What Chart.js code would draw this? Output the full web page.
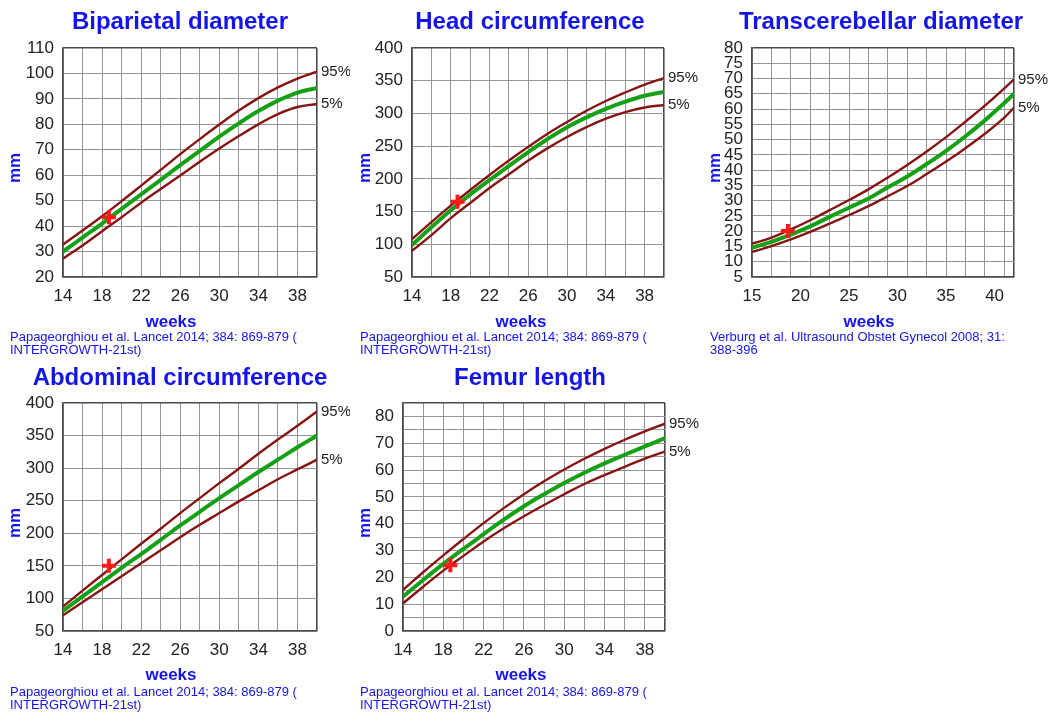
<!DOCTYPE html>
<html>
<head>
<meta charset="utf-8">
<title>Fetal biometry</title>
<script src="https://cdn.jsdelivr.net/npm/chart.js@4.4.1/dist/chart.umd.min.js"></script>
<style>
  html, body { margin: 0; padding: 0; background: #fff; }
  #sheet { position: relative; width: 1050px; height: 714px; overflow: hidden; }
  #sheet canvas { position: absolute; }
</style>
</head>
<body>
<div id="sheet">
  <canvas id="bpdChart" width="350" height="358" style="left:0;top:0"></canvas>
  <canvas id="hcChart"  width="350" height="358" style="left:350px;top:0"></canvas>
  <canvas id="tcdChart" width="350" height="358" style="left:700px;top:0"></canvas>
  <canvas id="acChart"  width="350" height="358" style="left:0;top:355px"></canvas>
  <canvas id="flChart"  width="350" height="358" style="left:350px;top:355px"></canvas>
</div>
<script>
/* -------------------- reference curves (mm) -------------------- */
// INTERGROWTH-21st charts, every 2 weeks
const WEEKS = [14, 16, 18, 20, 22, 24, 26, 28, 30, 32, 34, 36, 38, 40];

const BPD_P95 = [32.8, 38.3, 43.9, 49.8, 55.9, 62.1, 68.3, 74.2, 79.9, 85.4, 90.3, 94.5, 98.0, 100.7];
const BPD_P50 = [30.0, 35.5, 41.0, 46.8, 52.5, 58.2, 64.0, 69.6, 75.2, 80.4, 85.2, 89.3, 92.5, 94.3];
const BPD_P5  = [27.2, 32.4, 38.0, 43.5, 49.2, 54.6, 59.9, 65.3, 70.5, 75.4, 80.0, 84.0, 86.8, 88.0];

const HC_P95 = [108, 134, 159, 183, 206, 228, 249, 269, 287, 304, 319, 332, 344, 354];
const HC_P50 = [99, 126, 152, 176, 198, 220, 241, 261, 279, 294, 307, 318, 327, 333];
const HC_P5  = [90, 114, 140, 163, 186, 207, 228, 247, 264, 279, 292, 302, 309, 313];

const AC_P95 = [87.5, 112, 136, 160, 184, 207, 231, 254, 277, 299, 322, 344, 365, 387];
const AC_P50 = [81, 103, 125, 147, 168, 190, 212, 233, 254, 274, 294, 313, 332, 350];
const AC_P5  = [74, 94, 114, 134, 154, 174, 194, 213, 231, 249, 266, 283, 298, 313];

const FL_P95 = [15.3, 21.9, 28.2, 34.3, 40.2, 45.8, 51.0, 55.8, 60.2, 64.2, 67.9, 71.3, 74.4, 77.3];
const FL_P50 = [12.8, 19.0, 25.0, 30.6, 36.1, 41.5, 46.5, 51.0, 55.2, 59.0, 62.5, 65.7, 68.8, 71.9];
const FL_P5  = [10.3, 16.5, 22.5, 28.0, 33.4, 38.3, 42.8, 47.0, 51.0, 54.8, 58.1, 61.2, 64.3, 66.9];

// Verburg transcerebellar chart, odd weeks up to term
const TCD_WEEKS = [15, 17, 19, 21, 23, 25, 27, 29, 31, 33, 35, 37, 39, 41, 42];
const TCD_P95 = [15.9, 17.9, 20.6, 23.6, 26.9, 30.2, 33.7, 37.6, 41.7, 46.1, 50.8, 55.9, 61.1, 66.8, 69.7];
const TCD_P50 = [14.6, 16.5, 18.9, 21.6, 24.7, 27.7, 30.7, 34.4, 37.9, 42.0, 46.3, 51.1, 56.3, 62.0, 65.0];
const TCD_P5  = [13.2, 15.1, 17.3, 19.8, 22.5, 25.3, 28.2, 31.5, 34.8, 38.7, 42.8, 47.2, 51.9, 57.2, 60.5];

/* -------------------- this scan -------------------- */
const SCAN_WEEK = 18.7;
const BPD_MEASURED = 43.5;
const HC_MEASURED = 165;
const TCD_MEASURED = 20.1;
const AC_MEASURED = 150;
const FL_MEASURED = 24.5;

const INTERGROWTH_SOURCE = ['Papageorghiou et al. Lancet 2014; 384: 869-879 (', 'INTERGROWTH-21st)'];
const VERBURG_SOURCE = ['Verburg et al. Ultrasound Obstet Gynecol 2008; 31:', '388-396'];

/* -------------------- styles -------------------- */
const FONT = 'Arial, "Liberation Sans", Helvetica, sans-serif';
const BLUE = '#1515e8';
const MAROON = '#861414';
const GREEN = '#16a016';
const MARK_RED = '#ff1a1a';
const GRID = '#969696';
const EDGE = '#4a4a4a';

Chart.defaults.font.family = FONT;

/* -------------------- panel texts -------------------- */
const panelText = {
  id: 'panelText',
  afterDraw(chart, args, opts) {
    const { ctx, chartArea } = chart;
    ctx.save();
    ctx.fillStyle = BLUE;
    ctx.textAlign = 'center';
    ctx.textBaseline = 'middle';

    ctx.font = `bold 24px ${FONT}`;
    ctx.fillText(opts.title, opts.titleX, opts.titleY);

    ctx.font = `bold 17px ${FONT}`;
    ctx.fillText('weeks', opts.weeksX, opts.weeksY);
    ctx.save();
    ctx.translate(15, 168);
    ctx.rotate(-Math.PI / 2);
    ctx.fillText('mm', 0, 0);
    ctx.restore();

    ctx.font = `13px ${FONT}`;
    ctx.textAlign = 'left';
    opts.source.forEach((line, i) => ctx.fillText(line, 10, opts.sourceY + i * 13));

    // centile tags at the right end of the outer curves
    ctx.fillStyle = '#222';
    ctx.font = `15px ${FONT}`;
    const yScale = chart.scales.y;
    chart.data.datasets.forEach((ds) => {
      if (!ds.tag) return;
      const last = ds.data[ds.data.length - 1];
      ctx.fillText(ds.tag, chartArea.right + 4, yScale.getPixelForValue(last.y));
    });
    ctx.restore();
  }
};

/* -------------------- helpers -------------------- */
const pts = (xs, ys) => xs.map((x, i) => ({ x, y: ys[i] }));

function curve(data, color, width, tag, order) {
  return {
    data,
    borderColor: color,
    borderWidth: width,
    pointRadius: 0,
    tension: 0.4,
    fill: false,
    order,
    tag
  };
}

function axis(ax, size, padding) {
  const isEdge = (v) => v === ax.min || v === ax.max;
  const onGrid = (v) => Math.abs((v - ax.min) % ax.grid) < 1e-6;
  return {
    type: 'linear',
    min: ax.min,
    max: ax.max,
    afterFit: size,
    border: { color: EDGE, width: 1.6 },
    grid: {
      drawTicks: false,
      color: (c) => (isEdge(c.tick.value) ? EDGE : onGrid(c.tick.value) ? GRID : 'rgba(0,0,0,0)'),
      lineWidth: (c) => (isEdge(c.tick.value) ? 1.6 : 1)
    },
    ticks: {
      stepSize: ax.step,
      autoSkip: false,
      maxRotation: 0,
      padding,
      color: '#222',
      font: { size: 17 },
      callback: (v) => (Math.abs((v - ax.min) % ax.label) < 1e-6 ? v : '')
    }
  };
}

function buildChart(p) {
  const canvas = document.getElementById(p.canvas);
  const datasets = [
    {
      data: [{ x: SCAN_WEEK, y: p.measured }],
      showLine: false,
      pointStyle: 'cross',
      pointRadius: 7,
      pointBorderWidth: 4,
      borderColor: MARK_RED,
      backgroundColor: MARK_RED,
      order: 0
    },
    curve(pts(p.weeks, p.p50), GREEN, 4, null, 1),
    curve(pts(p.weeks, p.p95), MAROON, 2.4, '95%', 2),
    curve(pts(p.weeks, p.p5), MAROON, 2.4, '5%', 2)
  ];

  return new Chart(canvas.getContext('2d'), {
    type: 'line',
    data: { datasets },
    plugins: [panelText],
    options: {
      responsive: false,
      animation: false,
      devicePixelRatio: 1,
      layout: {
        padding: { left: 0, top: p.area.top, right: 350 - p.area.right, bottom: 358 - p.area.bottom - 30 }
      },
      scales: {
        x: axis(p.x, (s) => { s.height = 30; }, 9),
        y: axis(p.y, (s) => { s.width = p.area.left; }, 9)
      },
      plugins: {
        legend: { display: false },
        tooltip: { enabled: false },
        panelText: {
          title: p.title,
          titleX: p.titleX,
          titleY: p.titleY,
          weeksX: p.weeksX,
          weeksY: p.weeksY,
          source: p.source,
          sourceY: 337
        }
      }
    }
  });
}

/* -------------------- panels -------------------- */
const xIntergrowth = { min: 14, max: 40, step: 2, grid: 2, label: 4 };

const panels = [
  {
    canvas: 'bpdChart', title: 'Biparietal diameter', source: INTERGROWTH_SOURCE,
    weeks: WEEKS, p95: BPD_P95, p50: BPD_P50, p5: BPD_P5, measured: BPD_MEASURED,
    x: xIntergrowth, y: { min: 20, max: 110, step: 10, grid: 10, label: 10 },
    area: { left: 63, right: 317, top: 48, bottom: 277 },
    titleX: 180, titleY: 22, weeksX: 171, weeksY: 322
  },
  {
    canvas: 'hcChart', title: 'Head circumference', source: INTERGROWTH_SOURCE,
    weeks: WEEKS, p95: HC_P95, p50: HC_P50, p5: HC_P5, measured: HC_MEASURED,
    x: xIntergrowth, y: { min: 50, max: 400, step: 50, grid: 50, label: 50 },
    area: { left: 62, right: 314, top: 48, bottom: 277 },
    titleX: 180, titleY: 22, weeksX: 171, weeksY: 322
  },
  {
    canvas: 'tcdChart', title: 'Transcerebellar diameter', source: VERBURG_SOURCE,
    weeks: TCD_WEEKS, p95: TCD_P95, p50: TCD_P50, p5: TCD_P5, measured: TCD_MEASURED,
    x: { min: 15, max: 42, step: 1, grid: 2, label: 5 },
    y: { min: 5, max: 80, step: 5, grid: 5, label: 5 },
    area: { left: 52, right: 314, top: 48, bottom: 277 },
    titleX: 181, titleY: 22, weeksX: 169, weeksY: 322
  },
  {
    canvas: 'acChart', title: 'Abdominal circumference', source: INTERGROWTH_SOURCE,
    weeks: WEEKS, p95: AC_P95, p50: AC_P50, p5: AC_P5, measured: AC_MEASURED,
    x: xIntergrowth, y: { min: 50, max: 400, step: 50, grid: 50, label: 50 },
    area: { left: 63, right: 317, top: 48, bottom: 276 },
    titleX: 180, titleY: 23, weeksX: 171, weeksY: 320
  },
  {
    canvas: 'flChart', title: 'Femur length', source: INTERGROWTH_SOURCE,
    weeks: WEEKS, p95: FL_P95, p50: FL_P50, p5: FL_P5, measured: FL_MEASURED,
    x: xIntergrowth, y: { min: 0, max: 85, step: 5, grid: 5, label: 10 },
    area: { left: 53, right: 315, top: 48, bottom: 276 },
    titleX: 180, titleY: 23, weeksX: 171, weeksY: 320
  }
];

panels.forEach(buildChart);
</script>
</body>
</html>
